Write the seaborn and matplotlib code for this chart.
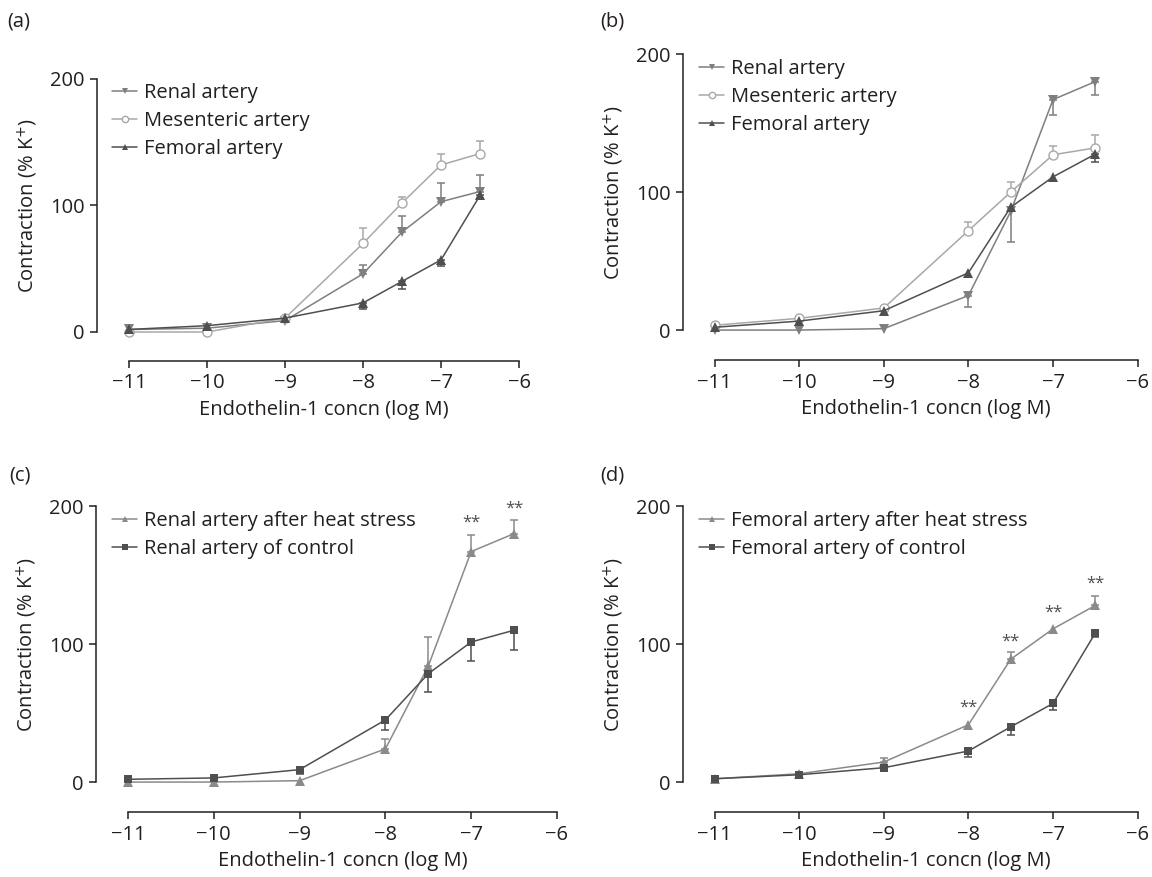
import numpy as np
import pandas as pd
import matplotlib
matplotlib.use("Agg")
import matplotlib.pyplot as plt
import seaborn as sns

# endothelin-1 concentrations (log M)
conc = [-11, -10, -9, -8, -7.5, -7, -6.5]

# panel (a)
a_renal = [2, 3, 9, 46, 79, 103, 111]
a_renal_err = [0, 0, 0, 7, 13, 15, 13]
a_mes = [0, 0, 11, 70, 102, 132, 141]
a_mes_err = [0, 0, 0, 12, 5, 9, 10]
a_fem = [2, 5, 11, 23, 40, 57, 108]
a_fem_err = [0, 0, 0, 5, 6, 5, 2]

# panel (b)
b_renal = [0, 0, 1, 25, 86, 167, 180]
b_renal_err = [0, 0, 0, 8, 22, 11, 10]
b_mes = [3.5, 8.5, 16, 72, 100, 127, 132]
b_mes_err = [0, 0, 0, 6, 7, 6, 9]
b_fem = [2, 6.5, 14, 41.5, 89, 111, 127.5]
b_fem_err = [0, 0, 0, 0, 0, 0, 6]

# panel (c)
c_heat = [0, 0, 1, 24, 84, 167, 180]
c_heat_err = [0, 0, 0, 7, 21, 12, 10]
c_ctrl = [2, 3, 9, 45, 78.5, 101.5, 110]
c_ctrl_err = [0, 0, 3, 7, 13, 14, 14]
c_stars_x = [-7, -6.5]
c_stars_y = [188, 198]

# panel (d)
d_heat = [2.4, 6, 14.5, 41.5, 89, 111, 128]
d_heat_err = [0, 0, 3, 0, 5, 0, 7]
d_ctrl = [2.4, 5.3, 10.4, 22.5, 40, 57, 108]
d_ctrl_err = [0, 0, 0, 4.5, 6, 5, 3]
d_stars_x = [-8, -7.5, -7, -6.5]
d_stars_y = [54, 102, 123, 144]

MID = "#7f7f7f"
LIGHT = "#a8a8a8"
DARK = "#4f4f4f"
HEAT = "#8a8a8a"
TXT = "#231f20"
FS = 14.5

sns.set_style("ticks")
plt.rcParams["font.family"] = ["Open Sans", "DejaVu Sans"]
plt.rcParams["axes.unicode_minus"] = True


def draw_series(ax, y, err, label, color, marker, up=True, mfc=None, ms=7):
    """line with markers via seaborn, one-sided SEM bars via errorbar"""
    df = pd.DataFrame({"conc": conc, "val": y})
    sns.lineplot(data=df, x="conc", y="val", ax=ax, color=color, marker=marker,
                 markersize=ms, linewidth=1.1, label=label,
                 markerfacecolor=mfc if mfc else color,
                 markeredgecolor=color, markeredgewidth=1.0 if mfc else 0)
    x = np.array(conc)
    e = np.array(err, dtype=float)
    m = e > 0
    if m.any():
        lo = np.zeros(m.sum()) if up else e[m]
        hi = e[m] if up else np.zeros(m.sum())
        ax.errorbar(x[m], np.array(y)[m], yerr=[lo, hi], fmt="none",
                    ecolor=color, elinewidth=1.1, capsize=3, capthick=1.1,
                    zorder=1)


def style_axes(ax, xlim, ylim):
    ax.set_xlim(*xlim)
    ax.set_ylim(*ylim)
    ax.set_xticks([-11, -10, -9, -8, -7, -6])
    ax.set_yticks([0, 100, 200])
    ax.spines["left"].set_bounds(0, 200)
    ax.spines["bottom"].set_bounds(-11, -6)
    for s in ("left", "bottom"):
        ax.spines[s].set_linewidth(1.1)
        ax.spines[s].set_color(TXT)
    sns.despine(ax=ax)
    ax.tick_params(direction="out", length=5, width=1.1, labelsize=FS,
                   colors=TXT, pad=4)
    ax.set_xlabel("Endothelin-1 concn (log M)", fontsize=FS, color=TXT,
                  labelpad=5)
    ax.set_ylabel("Contraction (% K$^{+}$)", fontsize=FS, color=TXT,
                  labelpad=7)
    # labels centred on the spine bounds, not on the axes box
    ax.xaxis.label.set_x((-8.5 - xlim[0]) / (xlim[1] - xlim[0]))
    ax.yaxis.label.set_y((100 - ylim[0]) / (ylim[1] - ylim[0]))
    ax.legend(loc="upper left", bbox_to_anchor=(0.035, 0.985), frameon=False,
              fontsize=FS, handlelength=1.25, handletextpad=0.35,
              labelspacing=0.4, borderaxespad=0, borderpad=0,
              markerscale=0.7, labelcolor=TXT)


fig = plt.figure(figsize=(11.52, 8.77), dpi=100)
ax_a = fig.add_axes([0.0842, 0.5884, 0.3707, 0.3216])
ax_b = fig.add_axes([0.5929, 0.5895, 0.3989, 0.3489])
ax_c = fig.add_axes([0.0833, 0.0741, 0.4045, 0.3489])
ax_d = fig.add_axes([0.5929, 0.0741, 0.3989, 0.3489])

xlim_a, ylim_a = (-11.41, -5.936), (-22.9, 200)
xlim_o, ylim_o = (-11.373, -5.942), (-21.7, 200)

# (a)
draw_series(ax_a, a_renal, a_renal_err, "Renal artery", MID, "v", up=True)
draw_series(ax_a, a_mes, a_mes_err, "Mesenteric artery", LIGHT, "o", up=True, mfc="white", ms=6.5)
draw_series(ax_a, a_fem, a_fem_err, "Femoral artery", DARK, "^", up=False)
style_axes(ax_a, xlim_a, ylim_a)

# (b)
draw_series(ax_b, b_renal, b_renal_err, "Renal artery", MID, "v", up=False)
draw_series(ax_b, b_mes, b_mes_err, "Mesenteric artery", LIGHT, "o", up=True, mfc="white", ms=6.5)
draw_series(ax_b, b_fem, b_fem_err, "Femoral artery", DARK, "^", up=False)
style_axes(ax_b, xlim_o, ylim_o)

# (c)
draw_series(ax_c, c_heat, c_heat_err, "Renal artery after heat stress", HEAT, "^", up=True)
draw_series(ax_c, c_ctrl, c_ctrl_err, "Renal artery of control", DARK, "s", up=False, ms=5.5)
style_axes(ax_c, xlim_o, ylim_o)
for sx, sy in zip(c_stars_x, c_stars_y):
    ax_c.text(sx, sy, "**", ha="center", va="center", fontsize=12, color=DARK)

# (d)
draw_series(ax_d, d_heat, d_heat_err, "Femoral artery after heat stress", HEAT, "^", up=True)
draw_series(ax_d, d_ctrl, d_ctrl_err, "Femoral artery of control", DARK, "s", up=False, ms=5.5)
style_axes(ax_d, xlim_o, ylim_o)
for sx, sy in zip(d_stars_x, d_stars_y):
    ax_d.text(sx, sy, "**", ha="center", va="center", fontsize=12, color=DARK)

for lab, x, y in [("(a)", 0.006, 0.975), ("(b)", 0.521, 0.975),
                  ("(c)", 0.008, 0.458), ("(d)", 0.521, 0.458)]:
    fig.text(x, y, lab, fontsize=FS, color=TXT, va="center", ha="left")

fig.savefig("out.png", dpi=100)
